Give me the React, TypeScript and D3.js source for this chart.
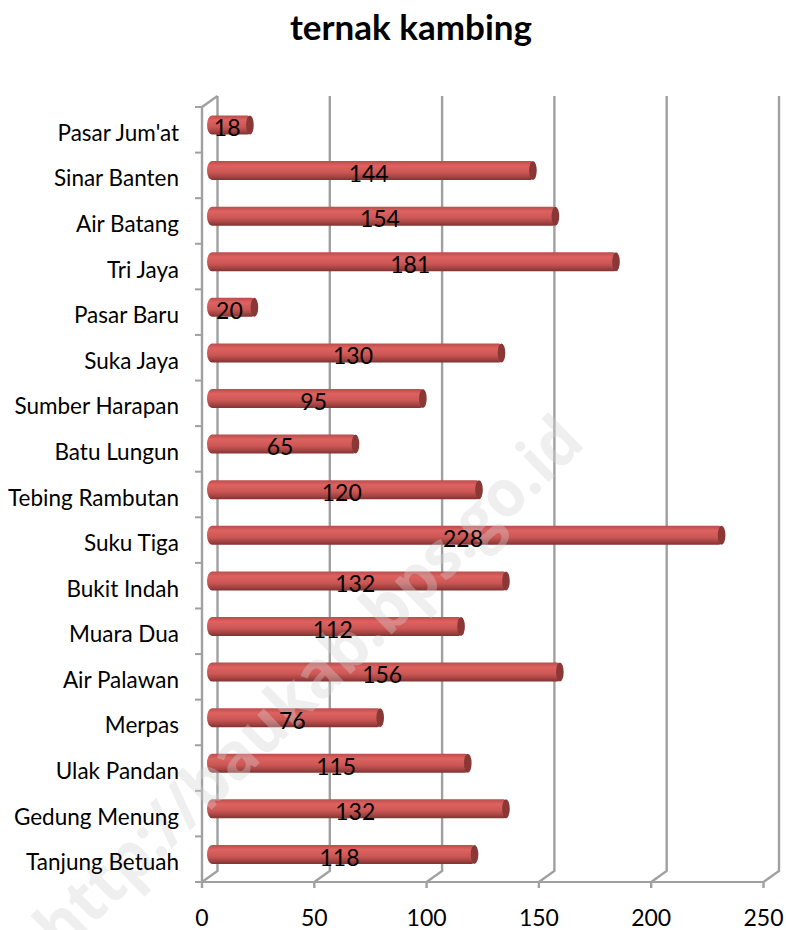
import React from "react";
import * as d3 from "d3";

const categories = [
  "Pasar Jum'at", "Sinar Banten", "Air Batang", "Tri Jaya", "Pasar Baru", "Suka Jaya",
  "Sumber Harapan", "Batu Lungun", "Tebing Rambutan", "Suku Tiga", "Bukit Indah",
  "Muara Dua", "Air Palawan", "Merpas", "Ulak Pandan", "Gedung Menung", "Tanjung Betuah",
];
const values = [18, 144, 154, 181, 20, 130, 95, 65, 120, 228, 132, 112, 156, 76, 115, 132, 118];
const xTicks = [0, 50, 100, 150, 200, 250];

const font = "Lato, 'Noto Sans', sans-serif";
const grid = "#a0a0a0";
const depthX = 15.5;
const depthY = 11;

export default function App() {
  const x = d3.scaleLinear().domain([0, 250]).range([202, 763.5]);
  const y = d3.scaleBand().domain(categories).range([107, 882]);
  const barH = 19;
  const barOff = 10; // cylinder sits mid-way in the depth

  return (
    <svg width={786} height={930} style={{ position: "absolute", left: 0, top: 0 }}>
      <defs>
        <linearGradient id="bar" x1="0" y1="0" x2="0" y2="1">
          <stop offset="0" stopColor="#b84d4c" />
          <stop offset="0.25" stopColor="#de6260" />
          <stop offset="0.6" stopColor="#cb5755" />
          <stop offset="0.85" stopColor="#a04240" />
          <stop offset="1" stopColor="#7e3232" />
        </linearGradient>
      </defs>
      <rect width={786} height={930} fill="#fff" />
      <text x={411} y={40} textAnchor="middle" fontFamily={font} fontWeight={700} fontSize={35} fill="#000">
        ternak kambing
      </text>

      {/* back wall gridlines and floor */}
      {xTicks.map((t) => (
        <g key={t} stroke={grid} strokeWidth={2.4} fill="none">
          <polyline
            points={`${x(t)},882 ${x(t) + depthX},${882 - depthY} ${x(t) + depthX},${107 - depthY}`}
          />
          <line x1={x(t)} x2={x(t)} y1={882} y2={888} />
        </g>
      ))}
      <line x1={195} x2={x(250)} y1={882} y2={882} stroke={grid} strokeWidth={2.2} />
      <line x1={202} x2={202} y1={107} y2={882} stroke={grid} strokeWidth={2.4} />
      <line x1={202} x2={217.5} y1={107} y2={96} stroke={grid} strokeWidth={2.4} />
      {categories.map((c) => (
        <line key={c} x1={195} x2={202} y1={y(c)!} y2={y(c)!} stroke={grid} strokeWidth={2} />
      ))}

      {categories.map((c, i) => {
        const cy = y(c)! + y.bandwidth() / 2 - 4.8;
        const top = cy - barH / 2;
        const end = x(values[i]) + barOff;
        return (
          <g key={c}>
            <rect x={207} y={top} width={end - 207} height={barH} rx={5} ry={barH / 2} fill="url(#bar)" />
            <ellipse cx={end - 2.5} cy={cy} rx={3.8} ry={barH / 2} fill="#8a3736" />
          </g>
        );
      })}
      {/* watermark sits above the bars, faintly tinting them, but under the text */}
      <text
        transform="translate(62,955) rotate(-44.2)"
        fontFamily="'Open Sans', sans-serif"
        fontWeight={700}
        fontSize={66}
        textLength={732}
        lengthAdjust="spacingAndGlyphs"
        fill="#d4d4d4"
        opacity={0.35}
      >
        http://baukab.bps.go.id
      </text>
      {categories.map((c) => (
        <text
          key={c}
          x={179}
          y={y(c)! + y.bandwidth() / 2 + 11}
          textAnchor="end"
          fontFamily={font}
          fontSize={22.5}
          fill="#000"
        >
          {c}
        </text>
      ))}
      {categories.map((c, i) => (
        <text
          key={c}
          x={x(values[i] / 2) + 5}
          y={y(c)! + y.bandwidth() / 2 + 6.5}
          textAnchor="middle"
          fontFamily={font}
          fontSize={23}
          fill="#000"
        >
          {values[i]}
        </text>
      ))}
      {xTicks.map((t) => (
        <text key={t} x={x(t)} y={926} textAnchor="middle" fontFamily={font} fontSize={23} fill="#000">
          {t}
        </text>
      ))}
    </svg>
  );
}
